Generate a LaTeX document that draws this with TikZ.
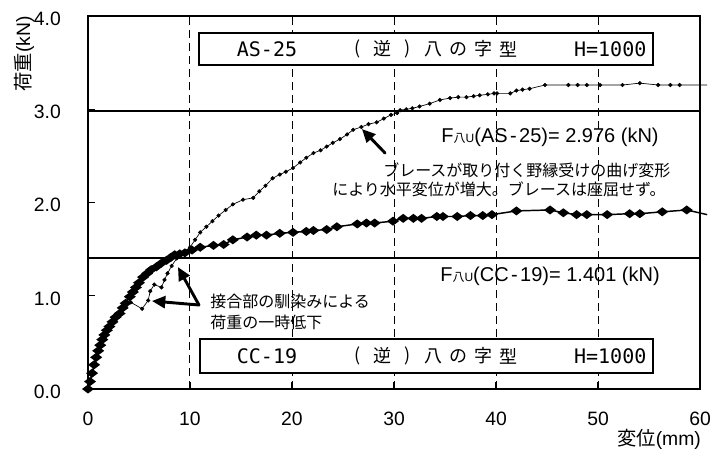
\documentclass[tikz,border=0pt]{standalone}
\usepackage{fontspec}
\setmainfont{Liberation Sans}
\newfontfamily\jp{Noto Sans CJK JP}
\newfontfamily\mono{DejaVu Sans Mono}
\usetikzlibrary{plotmarks}
\usetikzlibrary{arrows.meta}

\newcommand{\Fhu}{F{\fontsize{9pt}{9pt}\selectfont{\jp 八}U}}

\begin{document}
\begin{tikzpicture}[x=7.65pt,y=69.94pt,
    grid/.style={dash pattern=on 6pt off 3.75pt, line width=0.75pt},
    legendbox/.style={draw, fill=white, line width=1.6pt},
    legendmono/.style={font=\fontsize{15pt}{17pt}\selectfont\mono},
    legendjp/.style={font=\fontsize{13.5pt}{16pt}\selectfont\jp, inner sep=0pt},
    ticklab/.style={font=\fontsize{14.5pt}{17pt}\selectfont},
    note/.style={font=\fontsize{12pt}{14pt}\selectfont\jp, inner sep=0pt, anchor=west},
    ascurve/.style={line width=0.5pt, mark=*, mark size=1.3pt},
    cccurve/.style={line width=1.1pt, mark=diamond*, mark size=3.6pt, mark options={rotate=90}},
    fatarrow/.style={line width=2.2pt, line cap=round, -{Triangle[length=10pt,width=9pt]}}]
    \useasboundingbox (-8.627,-0.6327) rectangle (62.45,4.1716);

    % grid and ultimate load lines
    \foreach \x in {10,20,...,50}
        \draw[grid] (\x,0) -- (\x,4);
    \draw[line width=1.5pt] (0,2.976) -- (60,2.976);
    \draw[line width=1.5pt] (0,1.401) -- (60,1.401);

    % AS-25
    \draw[ascurve] plot coordinates {(0,0) (0.4,0.15) (0.8,0.32) (1.2,0.45) (1.6,0.55)
        (2.1,0.64) (2.7,0.74) (3.1,0.79) (3.7,0.89) (4.2,0.93) (5.3,0.86) (5.9,0.95)
        (6.1,1.05) (6.5,1.12) (7.2,1.09) (7.5,1.17) (7.8,1.24) (8.2,1.32) (8.7,1.40)
        (9.3,1.46) (10.0,1.52) (10.5,1.60) (11.0,1.68) (11.6,1.74) (12.2,1.80)
        (12.8,1.86) (13.5,1.92) (14.2,1.98) (15.2,2.03) (16.2,2.05) (16.8,2.12)
        (17.4,2.18) (18.1,2.26) (18.8,2.30) (19.4,2.33) (20.1,2.37) (20.8,2.43)
        (21.4,2.48) (22.1,2.53) (22.8,2.56) (23.4,2.60) (24.0,2.64) (24.7,2.68)
        (25.4,2.73) (26.0,2.78) (26.8,2.81) (27.5,2.84) (28.3,2.86) (29.0,2.90)
        (29.7,2.94) (30.3,2.96) (30.6,2.99) (31.2,3.00) (31.8,3.01) (32.5,3.03)
        (33.5,3.06) (34.5,3.10) (35.5,3.12) (36.3,3.13) (37.1,3.13) (37.8,3.14)
        (38.4,3.15) (39.2,3.16) (39.8,3.17) (40.1,3.17) (41.4,3.17) (42.0,3.20)
        (42.6,3.21) (43.3,3.22) (44.8,3.26) (47.1,3.26) (48.0,3.26) (48.9,3.26)
        (50.2,3.26) (52.4,3.26) (54.1,3.28) (55.9,3.26) (57.1,3.26) (58.0,3.26)}
        -- (60.7,3.26);

    % CC-19
    \draw[cccurve] plot coordinates {(0,0) (0.2,0.08) (0.4,0.17) (0.6,0.26) (0.8,0.34)
        (1.0,0.41) (1.2,0.47) (1.4,0.53) (1.6,0.58) (1.85,0.63) (2.1,0.67) (2.4,0.72)
        (2.7,0.77) (3.1,0.81) (3.4,0.87) (3.7,0.92) (4.1,0.99) (4.4,1.04) (4.7,1.09)
        (5.0,1.14) (5.4,1.20) (5.8,1.24) (6.2,1.28) (6.7,1.31) (7.2,1.35) (7.7,1.38)
        (8.1,1.41) (8.5,1.44) (9.0,1.45) (9.5,1.46) (10.2,1.49) (11.0,1.52) (12.3,1.54)
        (13.3,1.55) (14.2,1.60) (15.6,1.63) (16.5,1.65) (17.5,1.65) (18.8,1.67)
        (20.1,1.68) (21.4,1.69) (22.1,1.70) (23.4,1.71) (24.4,1.74) (26.4,1.77)
        (27.3,1.78) (28.1,1.78) (29.9,1.80) (30.9,1.83) (31.9,1.83) (32.7,1.83)
        (34.2,1.85) (34.8,1.85) (36.2,1.85) (37.5,1.86) (38.7,1.86) (39.6,1.87)
        (42.0,1.91) (45.3,1.92) (46.6,1.89) (47.9,1.87) (48.9,1.87) (50.9,1.87)
        (53.1,1.88) (54.1,1.88) (56.3,1.90) (58.7,1.92)} -- (60.7,1.87);

    % legends
    \draw[legendbox] (10.88,3.475) rectangle (55.39,3.817);
    \node[legendmono] (asname) at (17.55,3.646) {AS-25};
    \foreach \c [count=\i] in {{(},逆,{)},八,の,字,型}
        \node[legendjp] (astype\i) at (26.47+2.451*\i-2.451,3.646) {\c};
    \node[legendmono] (ash) at (51.2,3.646) {H=1000};
    \draw[legendbox] (10.98,0.172) rectangle (55.39,0.536);
    \node[legendmono] (ccname) at (17.55,0.354) {CC-19};
    \foreach \c [count=\i] in {{(},逆,{)},八,の,字,型}
        \node[legendjp] (cctype\i) at (26.47+2.451*\i-2.451,0.354) {\c};
    \node[legendmono] (cch) at (51.2,0.354) {H=1000};

    % ultimate loads
    \node[font=\fontsize{15pt}{17pt}\selectfont] (asfu) at (45.3,2.702)
        {\Fhu(AS\hspace{0.12em}-\hspace{0.12em}25)= 2.976 (kN)};
    \node[font=\fontsize{15pt}{17pt}\selectfont] (ccfu) at (45.3,1.212)
        {\Fhu(CC\hspace{0.12em}-\hspace{0.12em}19)= 1.401 (kN)};

    % notes
    \node[note] (asnote1) at (28.92,2.349) {ブレースが取り付く野縁受けの曲げ変形};
    \node[note] (asnote2) at (23.92,2.145) {により水平変位が増大。ブレースは座屈せず。};
    \node[note] (ccnote1) at (11.96,0.944) {接合部の馴染みによる};
    \node[note] (ccnote2) at (11.96,0.718) {荷重の一時低下};

    \coordinate (astail) at (29.12,2.531);
    \coordinate (ashead) at (26.86,2.788);
    \draw[fatarrow] (astail) -- (ashead);
    \coordinate (ccroot) at (10.88,0.901);
    \coordinate (cchead1) at (6.27,0.944);
    \coordinate (cchead2) at (8.82,1.308);
    \draw[fatarrow] (ccroot) -- (cchead1);
    \draw[fatarrow] (ccroot) -- (cchead2);

    % frame and axes
    \draw[line width=1.5pt] (0,0) rectangle (60,4);
    \foreach \v in {1,2,3}
        \draw[line width=0.8pt] (0,\v) -- (0.7,\v);
    \foreach \x in {10,20,...,50}
        \draw[line width=0.8pt] (\x,0) -- (\x,0.07);
    \foreach \v in {0,...,4}
        \node[ticklab, anchor=east] (ylab\v) at (-2.2,\v-0.03) {\v.0};
    \foreach \x in {0,10,...,60}
        \node[ticklab] (xlab\x) at (\x,-0.32) {\x};
    \node[ticklab, rotate=90] (ytitle) at (-6.27,3.592) {{\jp 荷重}(kN)};
    \node[ticklab] (xtitle) at (55.98,-0.535) {{\jp 変位}(mm)};
\end{tikzpicture}
\end{document}
